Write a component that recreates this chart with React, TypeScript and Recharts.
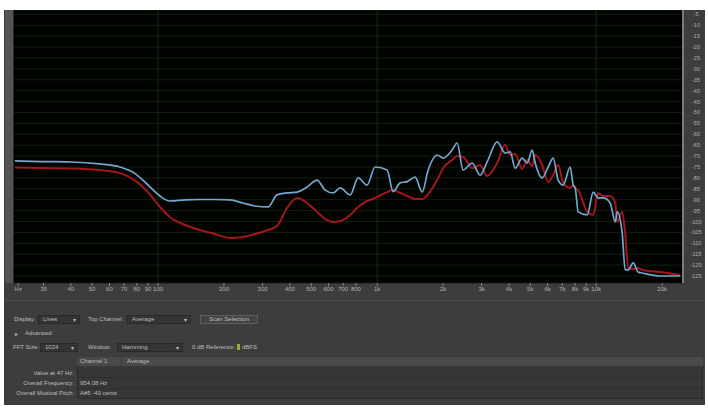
import React from 'react';
import {
  LineChart,
  Line,
  XAxis,
  YAxis,
  CartesianGrid,
  ReferenceLine
} from 'recharts';

// frequency (Hz) of each sampled point along the spectrum
const frequencies = [
  22.2, 29, 40, 54, 67, 78, 89, 102, 113, 133, 155, 182, 213, 244, 277, 318, 349,
  388, 431, 479, 532, 579, 630, 678, 753, 819, 900, 979, 1111, 1183, 1274, 1371,
  1491, 1605, 1710, 1879, 2002, 2200, 2319, 2470, 2716, 2953, 3179, 3531, 3841,
  4049, 4267, 4593, 4841, 5103, 5267, 5667, 6037, 6363, 6706, 7068, 7608, 7852,
  8019, 8276, 9098, 9690, 10210, 10760, 11580, 12220, 12470, 13140, 13560, 14000,
  14760, 15550, 16220, 19600, 24190
];

// blue trace (top channel), dB
const blueLevels = [
  -72.2, -72.5, -72.7, -73.6, -75.0, -77.8, -82.8, -88.3, -90.6, -90.1, -89.9, -89.9,
  -90.1, -91.5, -92.9, -93.3, -87.8, -86.9, -86.5, -84.2, -81.0, -85.6, -86.9, -84.6,
  -87.8, -80.0, -83.3, -75.0, -76.4, -86.3, -82.3, -81.7, -79.6, -86.5, -76.4, -69.5,
  -70.9, -67.2, -64.0, -76.4, -73.2, -78.7, -72.7, -63.5, -68.6, -68.1, -75.5, -70.9,
  -73.2, -67.2, -73.2, -80.0, -75.0, -70.9, -81.0, -83.3, -75.0, -83.3, -84.6, -95.6,
  -97.0, -86.5, -89.2, -89.2, -91.5, -100.2, -95.6, -105.3, -122.2, -122.2, -119.0,
  -123.2, -123.6, -125.0, -125.0
];

// red trace, dB
const redLevels = [
  -75.2, -75.5, -75.7, -76.4, -77.8, -81.0, -86.0, -93.3, -97.9, -101.6, -103.9, -105.7,
  -107.6, -107.1, -105.7, -103.9, -102.1, -93.8, -89.2, -91.5, -95.6, -98.8, -100.2, -99.8,
  -97.0, -93.3, -90.6, -89.2, -86.5, -85.6, -86.9, -88.3, -89.7, -89.7, -87.4, -81.0,
  -75.5, -71.8, -70.0, -70.4, -75.5, -74.1, -79.1, -73.2, -64.9, -69.5, -69.0, -75.9,
  -71.8, -74.5, -69.5, -74.1, -81.9, -78.7, -74.1, -82.3, -84.6, -83.3, -84.6, -85.6,
  -95.6, -97.0, -86.9, -88.3, -88.3, -91.5, -100.2, -95.6, -105.3, -121.3, -121.8,
  -121.3, -122.2, -123.2, -124.5
];

const xTicks = [
  23, 30, 40, 50, 60, 70, 80, 90, 100, 200, 300, 400, 500, 600, 700, 800, 1000,
  2000, 3000, 4000, 5000, 6000, 7000, 8000, 9000, 10000, 20000
];
const decadeLines = [100, 1000, 10000];
const yTicks = [
  -5, -10, -15, -20, -25, -30, -35, -40, -45, -50, -55, -60, -65, -70, -75, -80,
  -85, -90, -95, -100, -105, -110, -115, -120, -125
];

const data = frequencies.map((f, i) => ({ f, top: blueLevels[i], other: redLevels[i] }));

const formatFreq = (v: number) => {
  if (v === 23) return 'Hz';
  if (v >= 1000) return `${v / 1000}k`;
  return String(v);
};

const FONT = '"Liberation Sans", Arial, sans-serif';
const TEXT = '#bdbdbd';

const label = (left: number, top: number, text: string, extra: React.CSSProperties = {}) => (
  <div style={{ position: 'absolute', left, top, fontSize: 6, color: TEXT, whiteSpace: 'nowrap', ...extra }}>
    {text}
  </div>
);

const dropdown = (left: number, top: number, width: number, text: string) => (
  <div
    style={{
      position: 'absolute', left, top, width, height: 9, background: '#343434',
      border: '1px solid #2a2a2a', boxSizing: 'border-box'
    }}
  >
    <span style={{ position: 'absolute', left: 4, top: 0, fontSize: 6, color: TEXT }}>{text}</span>
    <span style={{ position: 'absolute', right: 3, top: 0, fontSize: 6, color: TEXT }}>▾</span>
  </div>
);

const YTick = ({ x, y, payload }: any) => (
  <text x={x + 5} y={y} textAnchor="middle" dominantBaseline="central" fontSize={5.5} fill="#b0b0b0">
    {payload.value}
  </text>
);

export default function App() {
  return (
    <div style={{ position: 'absolute', left: 0, top: 0, width: 708, height: 409, background: '#fff', fontFamily: FONT }}>
      {/* window frame */}
      <div style={{ position: 'absolute', left: 4, top: 10, width: 701, height: 395, background: '#3d3d3d' }} />
      <div style={{ position: 'absolute', left: 5, top: 10, width: 8, height: 273, background: '#545454', borderRight: '1px solid #2a2a2a' }} />

      <div style={{ position: 'absolute', left: 14, top: 10 }}>
        <LineChart width={691} height={290} data={data} margin={{ top: 0, right: 0, bottom: 0, left: 0 }}>
          <CartesianGrid fill="#010301" stroke="#131f13" vertical={false} />
          {decadeLines.map((d) => (
            <ReferenceLine key={d} x={d} stroke="#1a261a" />
          ))}
          <XAxis
            dataKey="f"
            type="number"
            scale="log"
            domain={[22, 24900]}
            allowDataOverflow
            ticks={xTicks}
            interval={0}
            tickFormatter={formatFreq}
            height={17}
            tickSize={3}
            tickMargin={1}
            axisLine={false}
            tickLine={{ stroke: '#888' }}
            tick={{ fontSize: 6, fill: '#b0b0b0' }}
          />
          <YAxis
            orientation="right"
            type="number"
            domain={[-128.2, -3]}
            allowDataOverflow
            ticks={yTicks}
            interval={0}
            width={22}
            tickLine={false}
            axisLine={{ stroke: '#7a7a7a', strokeWidth: 2 }}
            tick={<YTick />}
          />
          <Line type="monotone" dataKey="other" stroke="#a3161b" strokeWidth={2} dot={false} isAnimationActive={false} />
          <Line type="monotone" dataKey="top" stroke="#74a6cf" strokeWidth={1.7} dot={false} isAnimationActive={false} />
        </LineChart>
      </div>

      {/* control panel */}
      <div style={{ position: 'absolute', left: 4, top: 300, width: 701, height: 1, background: '#4c4c4c' }} />
      {label(14, 316, 'Display:')}
      {dropdown(38, 315, 42, 'Lines')}
      {label(88, 316, 'Top Channel:')}
      {dropdown(127, 315, 64, 'Average')}
      <div
        style={{
          position: 'absolute', left: 200, top: 315, width: 58, height: 9, border: '1px solid #5e5e5e',
          boxSizing: 'border-box', background: '#444', fontSize: 6, color: TEXT, textAlign: 'center', lineHeight: '7px'
        }}
      >
        Scan Selection
      </div>
      {label(15, 330, '▸')}
      {label(25, 330, 'Advanced')}
      {label(13, 344, 'FFT Size:')}
      {dropdown(40, 343, 38, '1024')}
      {label(88, 344, 'Window:')}
      {dropdown(117, 343, 66, 'Hamming')}
      {label(192, 344, '0 dB Reference:')}
      <div style={{ position: 'absolute', left: 237, top: 344, width: 3, height: 6, background: '#8fb030' }} />
      {label(242, 344, 'dBFS')}

      {/* readout table */}
      <div style={{ position: 'absolute', left: 77, top: 357, width: 626, height: 42, background: '#373737', border: '1px solid #2c2c2c', boxSizing: 'border-box' }} />
      <div style={{ position: 'absolute', left: 77, top: 357, width: 626, height: 9, background: '#4a4a4a' }} />
      <div style={{ position: 'absolute', left: 121, top: 357, width: 1, height: 9, background: '#383838' }} />
      {label(80, 358, 'Channel 1')}
      {label(127, 358, 'Average')}
      {[377, 388].map((t) => (
        <div key={t} style={{ position: 'absolute', left: 77, top: t, width: 626, height: 1, background: '#2e2e2e' }} />
      ))}
      {label(4, 370, 'Value at 47 Hz:', { width: 70, textAlign: 'right' })}
      {label(4, 380, 'Overall Frequency:', { width: 70, textAlign: 'right' })}
      {label(80, 380, '954.08 Hz')}
      {label(4, 390, 'Overall Musical Pitch:', { width: 70, textAlign: 'right' })}
      {label(80, 390, 'A#5 -40 cents')}
    </div>
  );
}
